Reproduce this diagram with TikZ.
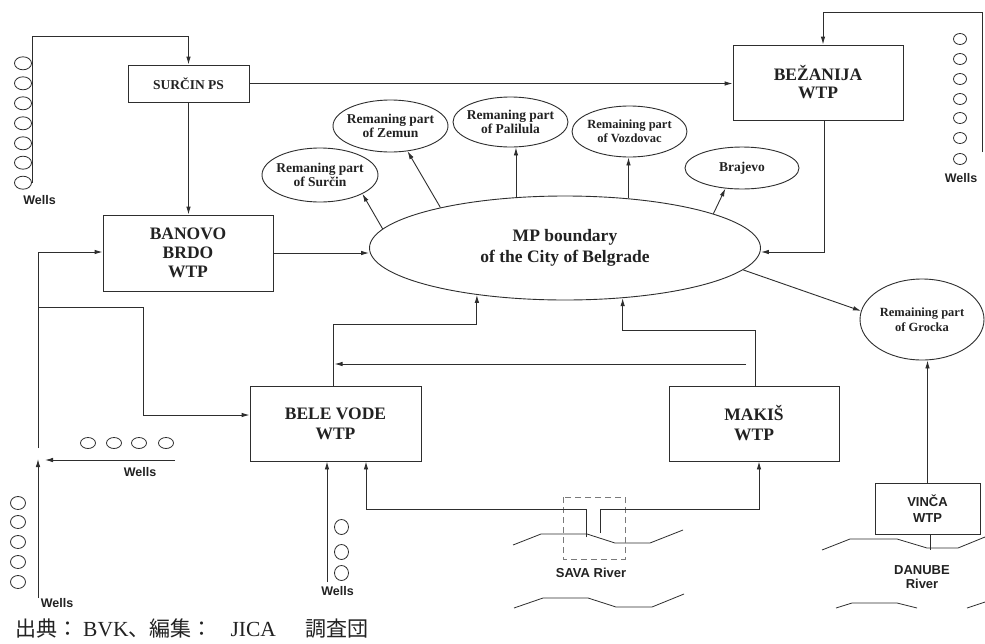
\documentclass[tikz,border=0pt]{standalone}
\usepackage{fontspec}
\setmainfont{Liberation Serif}
\setsansfont{Liberation Sans}
\newfontfamily\cjkfont{Noto Sans CJK JP}
\usetikzlibrary{arrows.meta,shapes.geometric,calc}
\definecolor{ink}{HTML}{2E2E2E}
\definecolor{txt}{HTML}{222222}
\definecolor{dashgray}{HTML}{7A7A7A}
\tikzset{
  every node/.style={text=txt},
  flow/.style={draw=ink, line width=0.9pt},
  arr/.style={flow, -{Latex[length=8pt,width=4.5pt]}},
  bank/.style={draw=ink, line width=0.8pt},
  plant/.style={draw=ink, line width=0.9pt, rectangle, inner sep=0pt, align=center,
    font=\bfseries\fontsize{17.5}{20}\selectfont},
  area/.style={draw=ink, line width=0.9pt, ellipse, inner xsep=-12pt, inner ysep=0pt,
    align=center, font=\bfseries\fontsize{13.5}{14.5}\selectfont},
  well/.style={draw=ink, line width=0.8pt, ellipse, inner sep=0pt,
    minimum width=17pt, minimum height=13pt},
  wlabel/.style={font=\sffamily\bfseries\fontsize{12.5}{14}\selectfont, inner sep=0pt, align=center},
}
\newcommand{\jp}[1]{{\cjkfont\fontsize{21}{22}\selectfont #1}}
\begin{document}
\begin{tikzpicture}[x=1pt, y=-1pt]
\useasboundingbox (0,0) rectangle (985,643);
\fill[white] (0,0) rectangle (985,643);

% ---- treatment plants and pumping station
\node[plant, minimum width=121pt, minimum height=37pt,
      font=\bfseries\fontsize{13.5}{15}\selectfont] (sps) at (188.5,83.5) {SURČIN PS};
\node[plant, minimum width=170pt, minimum height=75pt,
      font=\bfseries\fontsize{17.5}{18}\selectfont] (bez) at (818,82.5) {BEŽANIJA\\WTP};
\node[plant, minimum width=170pt, minimum height=76pt,
      font=\bfseries\fontsize{17.5}{19}\selectfont] (ban) at (188,253) {BANOVO\\BRDO\\WTP};
\node[plant, minimum width=171pt, minimum height=75pt] (bele) at (335.5,423.5) {BELE VODE\\WTP};
\node[plant, minimum width=170pt, minimum height=75pt] (mak) at (754,423.5) {MAKIŠ\\WTP};
\node[plant, minimum width=105pt, minimum height=51pt,
      font=\sffamily\bfseries\fontsize{13}{15.5}\selectfont] (vin) at (927.5,508.5) {VINČA\\WTP};

% ---- supply areas
\node[area, minimum width=391pt, minimum height=104pt,
      font=\bfseries\fontsize{17.5}{21}\selectfont] (mp) at (565,248) {MP boundary\\of the City of Belgrade};
\node[area, minimum width=116pt, minimum height=54pt] (sur) at (320,175) {Remaning part\\of Surčin};
\node[area, minimum width=115pt, minimum height=52pt] (zem) at (390.5,126) {Remaning part\\of Zemun};
\node[area, minimum width=115pt, minimum height=50pt] (pal) at (510.5,122) {Remaning part\\of Palilula};
\node[area, minimum width=115pt, minimum height=51pt,
      font=\bfseries\fontsize{12.5}{14.5}\selectfont] (voz) at (629.5,131.5) {Remaining part\\of Vozdovac};
\node[area, minimum width=114pt, minimum height=42pt] (bra) at (742,168) {Brajevo};
\node[area, minimum width=124pt, minimum height=81pt,
      font=\bfseries\fontsize{12.5}{14.5}\selectfont] (gro) at (922,319.5) {Remaining part\\of Grocka};

% ---- well fields
\foreach \y [count=\i] in {63.3,83.3,103.3,123.3,143.3,162.7,182.7}
  \node[well] (wa\i) at (23,\y) {};
\foreach \y [count=\i] in {39,59,79,99,118,138,159}
  \node[well, minimum width=13pt, minimum height=11pt] (wb\i) at (960,\y) {};
\foreach \x [count=\i] in {88,114,139,166}
  \node[well, minimum width=15pt, minimum height=11pt] (wc\i) at (\x,443) {};
\foreach \y [count=\i] in {503,522,542,562,582}
  \node[well, minimum width=15pt, minimum height=13pt] (wd\i) at (18,\y) {};
\foreach \y [count=\i] in {527,552,573}
  \node[well, minimum width=14pt, minimum height=15pt] (we\i) at (341.5,\y) {};

\node[wlabel] (wl1) at (39.5,200) {Wells};
\node[wlabel] (wl2) at (961,178) {Wells};
\node[wlabel] (wl3) at (140,472) {Wells};
\node[wlabel] (wl4) at (57,603) {Wells};
\node[wlabel] (wl5) at (337.5,591) {Wells};

% ---- rivers
\draw[bank] (513,545) -- (541,534) -- (587,534) -- (615,543) -- (650,543) -- (683,530);
\draw[bank] (514,608) -- (543,598) -- (588,598) -- (616,607) -- (652,607) -- (684,594);
\draw[bank] (822,550) -- (850,539) -- (897,539) -- (927,548) -- (958,548) -- (985,537);
\draw[bank] (836,608) -- (852,603) -- (897,603) -- (917,608);
\draw[bank] (967,608) -- (985,602);
\draw[draw=dashgray, line width=0.9pt, dash pattern=on 6pt off 4pt] (563,497) rectangle (625,559);
\node[wlabel, font=\sffamily\bfseries\fontsize{13}{14.5}\selectfont] (sava) at (591,573) {SAVA River};
\node[wlabel, font=\sffamily\bfseries\fontsize{13}{14.5}\selectfont] (danube) at (922,577) {DANUBE\\River};

% ---- free ends of the supply mains
\coordinate (w1top) at (32,183);
\coordinate (w2top) at (982,152);
\coordinate (lcol) at (38,448);
\coordinate (lbr) at (38,307);
\coordinate (lw) at (38,598);
\coordinate (ljoin) at (38,459);
\coordinate (hw) at (175,460);
\coordinate (hjoin) at (45,460);
\coordinate (mret) at (746,364);
\coordinate (savaL) at (586,537);
\coordinate (savaR) at (600,533);
\coordinate (bw) at (327,582);

% ---- connectors
\draw[arr] (w1top) -- ++(0,-147) -| (sps.north);
\draw[arr] (w2top) -- ++(0,-140) -| ([xshift=5pt]bez.north);
\draw[arr] (sps.east) -- (sps.east -| bez.west);
\draw[arr] (sps.south) -- (sps.south |- ban.north);
\draw[arr] ([xshift=6pt]bez.south) |- ([yshift=-4pt]mp.east);
\draw[arr] (ban.east) -- (ban.east -| mp.west);

\draw[arr] (mp.174) -- (sur.-24);
\draw[arr] (mp.162) -- (zem.-56);
\draw[arr] (mp.134.8) -- (mp.134.8 |- pal.south);
\draw[arr] (mp.38.5) -- (mp.38.5 |- voz.south);
\draw[arr] (mp.13) -- (bra.-129);
\draw[arr] (mp.-7.5) -- (gro.172);

\draw[arr] (lcol) |- ([yshift=1pt]ban.west);
\draw[arr] (lbr) -- ++(105,0) |- ([yshift=8.5pt]bele.west);
\draw[arr] (lw) -- (ljoin);
\draw[arr] (hw) -- (hjoin);

\draw[arr] ([xshift=-2.5pt]bele.north) -- ++(0,-61) -| (mp.-152.2);
\draw[arr] ([xshift=1pt]mak.north) -- ++(0,-55) -| (mp.-41.6);
\draw[arr] (mret) -- ([xshift=-1pt]bele.north |- mret);

\draw[arr] (savaL) -- ++(0,-28) -| ([xshift=30.5pt]bele.south);
\draw[arr] (savaR) -- ++(0,-24) -| ([xshift=5pt]mak.south);
\draw[arr] (bw) -- (bw |- bele.south);

\draw[arr] (vin.north) -- (vin.north |- gro.south);
\draw[flow] ([xshift=2.5pt]vin.south) -- ++(0,16);

% ---- source note
\node[anchor=west, inner sep=0pt, font=\fontsize{21.5}{22}\selectfont] (src) at (15,629)
  {\jp{出典：}\hspace{5pt}BVK\jp{、編集：}\hspace{18pt}JICA\hspace{30pt}\jp{調査団}};
\end{tikzpicture}
\end{document}
